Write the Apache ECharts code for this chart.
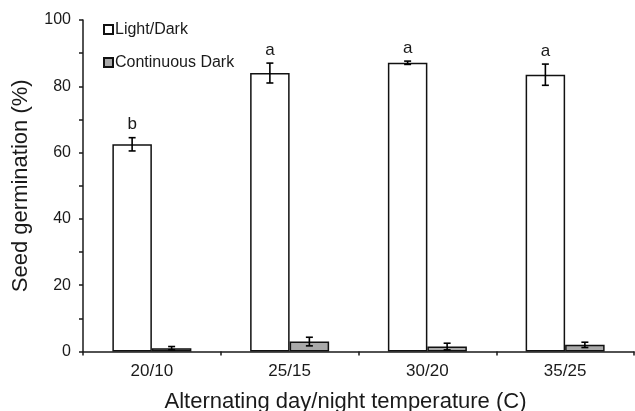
<!DOCTYPE html>
<html>
<head>
<meta charset="utf-8">
<script src="https://cdn.jsdelivr.net/npm/echarts@6/dist/echarts.min.js"></script>
<style>
  html, body { margin: 0; padding: 0; background: #fff; }
  #chart { width: 635px; height: 411px; }
</style>
</head>
<body>
<div id="chart"></div>
<script>
// Germination (%) under alternating day/night temperatures
const categories = ['20/10', '25/15', '30/20', '35/25'];
const lightDark = [62.5, 84.0, 87.1, 83.5];
const lightDarkErr = [2.0, 3.0, 0.5, 3.2];
const contDark = [1.0, 3.0, 1.5, 2.0];
const contDarkErr = [0.5, 1.3, 1.0, 0.8];
const letters = ['b', 'a', 'a', 'a'];

const FONT = 'Liberation Sans, Arial, sans-serif';
const BAR_W = 39.5;

// error bars (with optional significance letter) drawn over one bar series
function errorSeries(name, values, errs, side, labels) {
  return {
    type: 'custom',
    name: name + ' error',
    z: 10,
    silent: true,
    data: values.map((v, i) => [i, v, errs[i]]),
    renderItem: function (params, api) {
      const i = api.value(0);
      const v = api.value(1);
      const e = api.value(2);
      const top = api.coord([i, v + e]);
      const bot = api.coord([i, v - e]);
      const x = top[0] + side * BAR_W / 2;
      const cap = 3.5;
      const style = { stroke: '#000', lineWidth: 1.6 };
      const children = [
        { type: 'line', shape: { x1: x, y1: top[1], x2: x, y2: bot[1] }, style: style },
        { type: 'line', shape: { x1: x - cap, y1: top[1], x2: x + cap, y2: top[1] }, style: style },
        { type: 'line', shape: { x1: x - cap, y1: bot[1], x2: x + cap, y2: bot[1] }, style: style }
      ];
      if (labels) {
        children.push({
          type: 'text',
          style: {
            x: x, y: top[1] - 13, text: labels[i],
            fill: '#1a1a1a', font: '17px ' + FONT, align: 'center', verticalAlign: 'middle'
          }
        });
      }
      return { type: 'group', children: children };
    }
  };
}

const chart = echarts.init(document.getElementById('chart'), null, { renderer: 'canvas' });
chart.setOption({
  animation: false,
  backgroundColor: '#fff',
  textStyle: { fontFamily: FONT },
  grid: { left: 83, right: 1, top: 20, bottom: 59.5, containLabel: false, outerBoundsMode: 'none' },
  legend: {
    data: ['Light/Dark', 'Continuous Dark'],
    orient: 'vertical',
    left: 103,
    top: 21,
    padding: 0,
    itemWidth: 9,
    itemHeight: 9,
    itemGap: 16,
    icon: 'rect',
    textStyle: { fontSize: 16, color: '#1a1a1a', fontFamily: FONT, lineHeight: 17, padding: [0, 0, 0, -3] }
  },
  xAxis: {
    type: 'category',
    data: categories,
    name: 'Alternating day/night temperature (C)',
    nameLocation: 'middle',
    nameGap: 50,
    nameTextStyle: { fontSize: 22, color: '#1a1a1a', fontFamily: FONT, verticalAlign: 'middle', padding: [0, 26, 0, 0] },
    axisLine: { lineStyle: { color: '#1a1a1a', width: 1.5 } },
    axisTick: { show: true, length: 4, inside: false, lineStyle: { color: '#1a1a1a', width: 1.5 } },
    axisLabel: { fontSize: 17, color: '#1a1a1a', margin: 11, fontFamily: FONT },
    splitLine: { show: false }
  },
  yAxis: {
    type: 'value',
    min: 0,
    max: 100,
    interval: 10,
    name: 'Seed germination (%)',
    nameLocation: 'middle',
    nameGap: 62,
    nameRotate: 90,
    nameTextStyle: { fontSize: 22, color: '#1a1a1a', fontFamily: FONT, verticalAlign: 'middle' },
    axisLine: { show: true, lineStyle: { color: '#1a1a1a', width: 1.5 } },
    axisTick: { show: true, length: 4, lineStyle: { color: '#1a1a1a', width: 1.5 } },
    axisLabel: {
      fontSize: 16, color: '#1a1a1a', margin: 12, fontFamily: FONT,
      formatter: v => (v % 20 === 0 ? String(v) : '')
    },
    splitLine: { show: false }
  },
  series: [
    {
      name: 'Light/Dark',
      type: 'bar',
      data: lightDark,
      barWidth: BAR_W,
      barGap: '0%',
      itemStyle: { color: '#fff', borderColor: '#111', borderWidth: 1.5 }
    },
    {
      name: 'Continuous Dark',
      type: 'bar',
      data: contDark,
      barWidth: BAR_W,
      barGap: '0%',
      itemStyle: { color: '#a9a9a9', borderColor: '#111', borderWidth: 1.5 }
    },
    errorSeries('Light/Dark', lightDark, lightDarkErr, -1, letters),
    errorSeries('Continuous Dark', contDark, contDarkErr, 1, null)
  ]
});
</script>
</body>
</html>
